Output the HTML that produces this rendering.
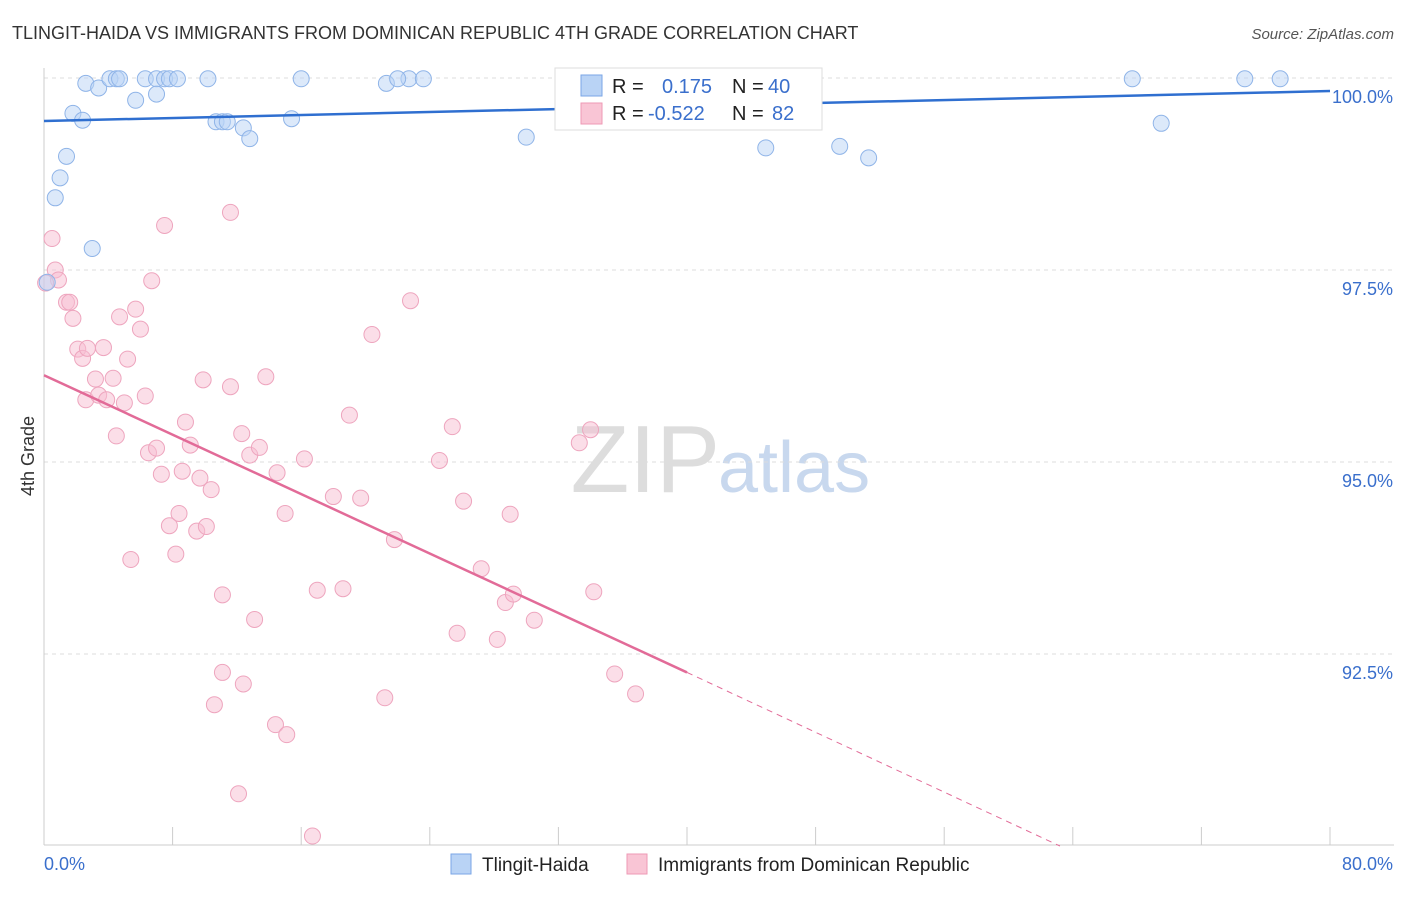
<!DOCTYPE html>
<html><head><meta charset="utf-8"><style>
body{margin:0;background:#fff;font-family:"Liberation Sans",sans-serif}
svg text{font-family:"Liberation Sans",sans-serif}
</style></head><body>
<svg id="c" width="1406" height="892" xmlns="http://www.w3.org/2000/svg">
<text x="12" y="39" font-size="18" fill="#333">TLINGIT-HAIDA VS IMMIGRANTS FROM DOMINICAN REPUBLIC 4TH GRADE CORRELATION CHART</text>
<text x="1394" y="39" font-size="15" fill="#555" font-style="italic" text-anchor="end">Source: ZipAtlas.com</text>
<text x="720" y="492" font-size="96" fill="#ddd" text-anchor="end" font-family="Liberation Serif">ZIP</text>
<text x="718" y="492" font-size="72" fill="#c8d8ee">atlas</text>
<g id="grid"></g><g id="axes"></g><g id="pts"></g><g id="lines"></g>
<text x="34" y="456" font-size="18" fill="#333" text-anchor="middle" transform="rotate(-90 34 456)">4th Grade</text>
<g>
<rect x="555" y="68" width="267" height="62" fill="#fff" stroke="#ddd"/>
<rect x="581" y="75" width="21" height="21" fill="#b9d3f5" stroke="#7aa6e6"/>
<rect x="581" y="103" width="21" height="21" fill="#f9c5d5" stroke="#ee99b5"/>
<text x="612" y="93" font-size="20" fill="#222">R =</text><text x="662" y="93" font-size="20" fill="#3a6fcc">0.175</text>
<text x="732" y="93" font-size="20" fill="#222">N =</text><text x="768" y="93" font-size="20" fill="#3a6fcc">40</text>
<text x="612" y="120" font-size="20" fill="#222">R =</text><text x="648" y="120" font-size="20" fill="#3a6fcc">-0.522</text>
<text x="732" y="120" font-size="20" fill="#222">N =</text><text x="772" y="120" font-size="20" fill="#3a6fcc">82</text>
</g>
<g>
<rect x="451" y="854" width="20" height="20" fill="#b9d3f5" stroke="#7aa6e6"/>
<text x="482" y="871" font-size="19" fill="#222">Tlingit-Haida</text>
<rect x="627" y="854" width="20" height="20" fill="#f9c5d5" stroke="#ee99b5"/>
<text x="658" y="871" font-size="19" fill="#222">Immigrants from Dominican Republic</text>
</g>
</svg>
<script>
const yTicks=[100,97.5,95,92.5];
const yTickLabels=["100.0%","97.5%","95.0%","92.5%"];
const xTicks=[0,8,16,24,32,40,48,56,64,72,80];
const blueX=[2.6,3.4,4.1,4.5,4.7,6.3,7.0,7.5,7.8,8.3,10.2,16.0,21.3,22.7,23.6,36.6,67.7,74.7,76.9,1.8,2.4,5.7,7.0,10.7,11.1,11.4,12.4,12.8,15.4,30.0,44.9,49.5,51.3,69.5,1.4,1.0,0.7,3.0,0.2,22.0];
const blueY=[99.93,99.87,99.99,99.99,99.99,99.99,99.99,99.99,99.99,99.99,99.99,99.99,99.93,99.99,99.99,99.99,99.99,99.99,99.99,99.54,99.45,99.71,99.79,99.43,99.43,99.43,99.35,99.21,99.47,99.23,99.09,99.11,98.96,99.41,98.98,98.70,98.44,97.78,97.34,99.99];
const pinkX=[0.5,0.7,0.9,0.1,1.4,1.6,1.8,2.1,2.4,2.7,3.7,2.6,3.2,3.4,3.9,4.3,5.0,4.7,5.7,6.0,5.2,4.5,6.3,6.7,7.5,11.6,6.5,7.0,7.3,7.8,8.2,8.4,8.6,8.8,9.1,9.5,9.7,10.1,10.4,9.9,11.6,5.4,11.1,11.1,10.6,12.4,13.1,12.1,14.4,15.1,16.7,12.3,12.8,13.4,13.8,14.5,15.0,16.2,17.0,18.0,18.6,19.0,19.7,20.4,22.8,21.2,21.8,24.6,25.4,25.7,26.1,27.2,28.2,28.7,29.0,29.2,30.5,33.3,34.0,34.2,35.5,36.8];
const pinkY=[97.91,97.50,97.37,97.33,97.08,97.08,96.87,96.47,96.35,96.48,96.49,95.81,96.08,95.87,95.81,96.09,95.77,96.89,96.99,96.73,96.34,95.34,95.86,97.36,98.08,98.25,95.12,95.18,94.84,94.17,93.80,94.33,94.88,95.52,95.22,94.10,94.79,94.16,94.64,96.07,95.98,93.73,93.27,92.26,91.84,92.11,92.95,90.68,91.58,91.45,90.13,95.37,95.09,95.19,96.11,94.86,94.33,95.04,93.33,94.55,93.35,95.61,94.53,96.66,97.10,91.93,93.99,95.02,95.46,92.77,94.49,93.61,92.69,93.17,94.32,93.28,92.94,95.25,95.42,93.31,92.24,91.98];
const ns="http://www.w3.org/2000/svg";
const X=v=>44+(v/80)*1286, Y=v=>78+(100-v)*76.8;
function mk(t,a,p){const e=document.createElementNS(ns,t);for(const k in a)e.setAttribute(k,a[k]);document.getElementById(p).appendChild(e);return e;}
yTicks.forEach((t,i)=>{
 const g=mk('line',{x1:44,x2:1394,y1:Y(t),y2:Y(t),stroke:'#ddd','stroke-dasharray':'4,4'},'grid');
 
 
 const l=mk('text',{x:1393,y:Y(t)+25,'font-size':18,fill:'#3a6fcc','text-anchor':'end'},'grid');l.textContent=yTickLabels[i];
 
 
});
mk('line',{x1:44,x2:44,y1:68,y2:845,stroke:'#ccc'},'axes');
mk('line',{x1:44,x2:1394,y1:845,y2:845,stroke:'#ccc'},'axes');
xTicks.forEach(t=>{const e=mk('line',{x1:X(t),x2:X(t),y1:827,y2:845,stroke:'#ccc'},'axes');
 
 });
const a=mk('text',{x:44,y:870,'font-size':18,fill:'#3a6fcc'},'axes');a.textContent='0.0%';
const b=mk('text',{x:1393,y:870,'font-size':18,fill:'#3a6fcc','text-anchor':'end'},'axes');b.textContent='80.0%';
pinkX.forEach((x,i)=>{const e=mk('circle',{cx:X(x),cy:Y(pinkY[i]),r:8,fill:'rgba(248,190,210,0.5)',stroke:'#eea5be'},'pts');
 
 });
blueX.forEach((x,i)=>{const e=mk('circle',{cx:X(x),cy:Y(blueY[i]),r:8,fill:'rgba(185,211,245,0.5)',stroke:'#8fb4e8'},'pts');
 
 });
const bl=mk('line',{x1:X(0),y1:Y(99.44),x2:X(80),y2:Y(99.83),stroke:'#2f6fd0','stroke-width':2.5},'lines');


const pl=mk('line',{x1:X(0),y1:Y(96.13),x2:X(40),y2:Y(92.26),stroke:'#e26b98','stroke-width':2.5},'lines');


const pd=mk('line',{x1:X(40),y1:Y(92.26),x2:X(63.2),y2:Y(90),stroke:'#e26b98','stroke-width':1,'stroke-dasharray':'6,5'},'lines');


</script>
</body></html>
